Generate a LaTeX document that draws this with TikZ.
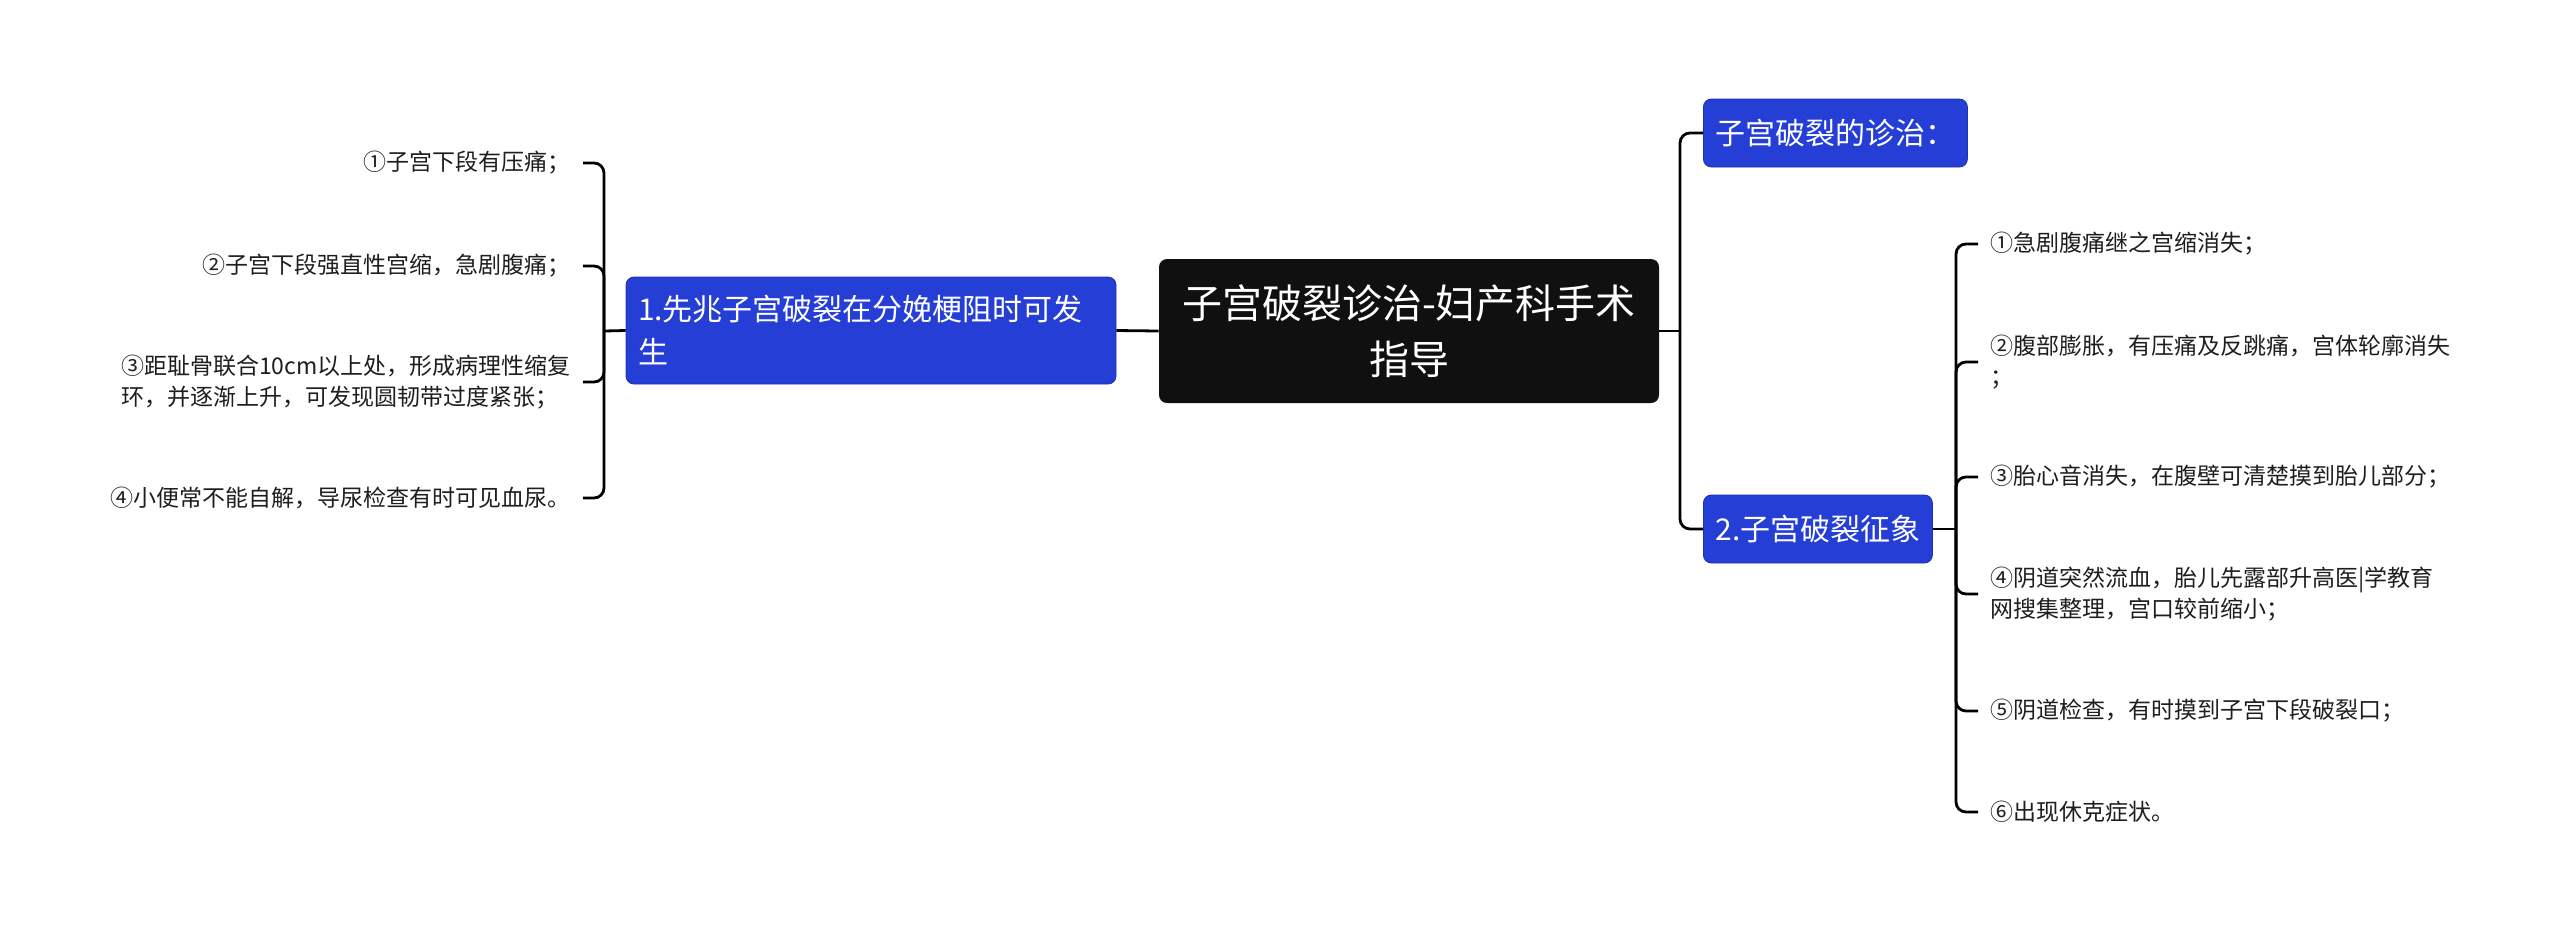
\documentclass[tikz,border=0pt]{standalone}
\usepackage{fontspec}
\setmainfont{Noto Sans CJK SC}
\definecolor{topicblue}{RGB}{36,62,214}
\definecolor{rootblack}{RGB}{16,16,16}
\definecolor{leaftext}{RGB}{30,30,30}

\begin{document}
\begin{tikzpicture}[x=0.5pt,y=-0.5pt,
   every node/.style={inner sep=0pt},
   rootbox/.style={fill=rootblack, text=white, rounded corners=4pt, align=center,
      minimum width=250pt, minimum height=72pt,
      font=\fontsize{20pt}{28pt}\selectfont},
   topicbox/.style={fill=topicblue, draw=topicblue!80!black, line width=0.4pt,
      text=white, rounded corners=4pt, inner xsep=6pt, minimum height=34pt,
      font=\fontsize{15pt}{21.5pt}\selectfont},
   leaf/.style={text=leaftext, align=left, inner xsep=6pt,
      font=\fontsize{11.5pt}{15.5pt}\selectfont},
   link/.style={line width=1.4pt, rounded corners=5pt}]

\useasboundingbox[fill=white] (0,0) rectangle (2560,939);

\node[rootbox] (root) at (1409,331) {子宫破裂诊治-妇产科手术\\指导};
\node[topicbox, text width=233pt, align=left, minimum height=53.5pt] (warn) at (871,330.5)
   {1.先兆子宫破裂在分娩梗阻时可发\\生};
\node[topicbox, anchor=west] (treat) at (1703,133) {子宫破裂的诊治：};
\node[topicbox, anchor=west] (sign) at (1703,529) {2.子宫破裂征象};

\node[leaf, anchor=east] (w1) at (583,163) {①子宫下段有压痛；};
\node[leaf, anchor=east] (w2) at (583,266) {②子宫下段强直性宫缩，急剧腹痛；};
\node[leaf, anchor=east] (w3) at (583,382) {③距耻骨联合10cm以上处，形成病理性缩复\\环，并逐渐上升，可发现圆韧带过度紧张；};
\node[leaf, anchor=east] (w4) at (583,498) {④小便常不能自解，导尿检查有时可见血尿。};

\node[leaf, anchor=west] (s1) at (1978,244) {①急剧腹痛继之宫缩消失；};
\node[leaf, anchor=west] (s2) at (1978,362) {②腹部膨胀，有压痛及反跳痛，宫体轮廓消失\\；};
\node[leaf, anchor=west] (s3) at (1978,477) {③胎心音消失，在腹壁可清楚摸到胎儿部分；};
\node[leaf, anchor=west] (s4) at (1978,594) {④阴道突然流血，胎儿先露部升高医|学教育\\网搜集整理，宫口较前缩小；};
\node[leaf, anchor=west] (s5) at (1978,711) {⑤阴道检查，有时摸到子宫下段破裂口；};
\node[leaf, anchor=west] (s6) at (1978,812) {⑥出现休克症状。};

\coordinate (wfork) at (604,331);
\coordinate (rfork) at (1680,331);
\coordinate (sfork) at (1956,529);

\draw[link] (root.west) -- (warn.east);
\draw[link] (warn.west) -- (wfork);
\foreach \n in {w1,w2,w3,w4}
   \draw[link] (wfork) |- (\n.east);
\draw[link] (root.east) -- (rfork);
\foreach \n in {treat,sign}
   \draw[link] (rfork) |- (\n.west);
\draw[link] (sign.east) -- (sfork);
\foreach \i in {1,...,6}
   \draw[link] (sfork) |- (s\i.west);

\end{tikzpicture}
\end{document}
